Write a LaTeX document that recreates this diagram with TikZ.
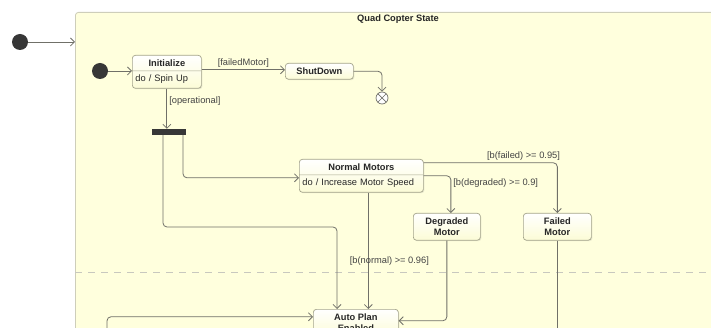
\documentclass[tikz,border=0pt]{standalone}
\usepackage{fontspec}
\setmainfont{Liberation Sans}
\usetikzlibrary{arrows.meta,positioning,shapes.multipart,shadows,calc}
\definecolor{umlyellow}{RGB}{255,255,221}
\definecolor{umlborder}{RGB}{206,206,186}
\definecolor{umlline}{RGB}{112,112,104}
\definecolor{umlstate}{RGB}{165,165,140}
\definecolor{umlstatebot}{RGB}{252,252,214}
\definecolor{umltext}{RGB}{68,68,68}
\definecolor{umldot}{RGB}{55,55,55}
\definecolor{umldash}{RGB}{200,200,190}

\begin{document}
\begin{tikzpicture}[x=1pt, y=-1pt,
  composite/.style={rectangle, draw=umlborder, fill=umlyellow, rounded corners=3pt, anchor=north west, minimum width=720pt, minimum height=400pt, line width=0.8pt},
  state/.style={rectangle, draw=umlstate, rounded corners=3pt, top color=white, bottom color=umlstatebot, drop shadow={shadow xshift=1pt, shadow yshift=-1pt, opacity=0.18}, font=\fontsize{9.3}{11}\selectfont\bfseries, text=black!85, align=center, minimum width=68pt, inner ysep=4.5pt, anchor=north west, line width=0.7pt},
  dostate/.style={rectangle split, rectangle split parts=2, draw=umlstate, rounded corners=3pt, top color=white, bottom color=umlstatebot, drop shadow={shadow xshift=1pt, shadow yshift=-1pt, opacity=0.18}, font=\fontsize{9.3}{11}\selectfont, text=black!85, inner xsep=3pt, inner ysep=4pt, anchor=north west, line width=0.7pt},
  initial/.style={circle, fill=umldot, minimum size=16pt, inner sep=0pt},
  fork/.style={rectangle, fill=umldot, minimum width=34pt, minimum height=6pt, inner sep=0pt},
  final/.style={circle, draw=umlline, fill=white, minimum size=12pt, inner sep=0pt, line width=0.7pt, path picture={\draw[umlline, line width=0.7pt] (path picture bounding box.north west) -- (path picture bounding box.south east) (path picture bounding box.north east) -- (path picture bounding box.south west);}},
  arr/.style={draw=umlline, line width=0.8pt, rounded corners=4pt, -{Straight Barb[length=4pt, width=8pt]}},
  line/.style={draw=umlline, line width=0.8pt, rounded corners=4pt},
  lab/.style={font=\fontsize{9.3}{11}\selectfont, text=umltext, inner sep=2pt},
  title/.style={font=\fontsize{9.3}{11}\selectfont\bfseries, text=black!85},
  region/.style={draw=umldash, line width=0.8pt, dash pattern=on 7pt off 6pt}
]
\useasboundingbox (0,0) rectangle (711,328);
\clip (0,0) rectangle (711,328);
\node[composite] (qcs) at (75,12) {};
\node[title] (qcstitle) at (398,19) {Quad Copter State};
\draw[region] (qcs.west |- 0,272) -- (qcs.east |- 0,272);
\node[initial] (outerinit) at (20,42) {};
\node[initial] (innerinit) at (100,71) {};
\node[dostate, text width=63pt] (init) at (132,55) {\centering\textbf{Initialize}\par\nodepart{two}\raggedright do / Spin Up};
\node[state] (shut) at (285,63) {ShutDown};
\node[final] (fin) at (382,98) {};
\node[fork] (fork) at (168.5,132) {};
\node[dostate, text width=118pt] (normal) at (299,159) {\centering\textbf{Normal Motors}\par\nodepart{two}\raggedright do / Increase Motor Speed};
\node[state, minimum width=67pt] (degraded) at (413,213) {Degraded\\Motor};
\node[state] (failed) at (523,213) {Failed\\Motor};
\node[state, minimum width=85pt] (auto) at (313,309) {Auto Plan\\Enabled};
\coordinate (bend) at (337,227);
\coordinate (autoin) at (107,345);
\draw[arr] (outerinit) -- (outerinit -| qcs.west);
\draw[arr] (innerinit) -- (innerinit -| init.west);
\draw[arr] ([yshift=2pt]init.east) -- node[above,lab]{[failedMotor]} ([yshift=2pt]init.east -| shut.west);
\draw[arr] (shut.east) -| (fin.north);
\draw[arr] (init.south) -- node[pos=0.3,right,lab]{[operational]} (init.south |- fork.north);
\draw[arr] ([xshift=14.5pt]fork.south) |- ([yshift=-2pt]normal.west);
\draw[arr] ([xshift=-5.5pt]fork.south) |- (bend) -- (bend |- auto.north);
\draw[arr] ([yshift=13pt]normal.east) -| node[pos=0.5,above left,lab,xshift=5pt]{[b(failed) >= 0.95]} (failed.north);
\draw[arr] (normal.east) -| node[pos=0.5,below right,lab,yshift=-1pt]{[b(degraded) >= 0.9]} ([xshift=4pt]degraded.north);
\draw[arr] ([xshift=7pt]normal.south) -- node[pos=0.59,lab,xshift=21pt]{[b(normal) >= 0.96]} ([xshift=7pt]normal.south |- auto.north);
\draw[arr] (degraded.south) |- ([yshift=2pt]auto.east);
\draw[arr] (autoin) |- ([yshift=6pt]auto.west);
\draw[line] (failed.south) -- (failed.south |- autoin);
\end{tikzpicture}
\end{document}
